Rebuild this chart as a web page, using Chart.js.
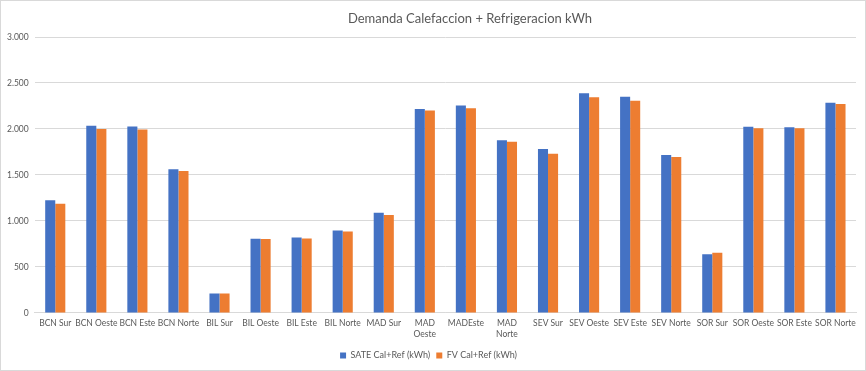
<!DOCTYPE html>
<html>
<head>
<meta charset="utf-8">
<script src="https://cdn.jsdelivr.net/npm/chart.js@4.4.0/dist/chart.umd.min.js"></script>
<style>
  html, body { margin: 0; padding: 0; background: #fff; }
  #wrap { width: 864px; height: 369px; border: 1px solid #d9d9d9; }
</style>
</head>
<body>
<div id="wrap"><canvas id="bar-chart" width="864" height="369"></canvas></div>
<script>
const chartTitle = 'Demanda Calefaccion + Refrigeracion kWh'
const categories = ['BCN Sur', 'BCN Oeste', 'BCN Este', 'BCN Norte', 'BIL Sur', 'BIL Oeste', 'BIL Este', 'BIL Norte', 'MAD Sur',
  ['MAD', 'Oeste'], 'MADEste', ['MAD', 'Norte'], 'SEV Sur', 'SEV Oeste', 'SEV Este', 'SEV Norte', 'SOR Sur', 'SOR Oeste', 'SOR Este', 'SOR Norte']
const sateValues = [1225, 2036, 2028, 1562, 210, 807, 821, 895, 1090, 2218, 2254, 1878, 1781, 2388, 2351, 1716, 638, 2023, 2020, 2286]
const fvValues = [1186, 2000, 1993, 1544, 210, 803, 810, 884, 1065, 2200, 2225, 1860, 1730, 2345, 2308, 1694, 653, 2009, 2009, 2272]
const yTicks = [0, 500, 1000, 1500, 2000, 2500, 3000]

function formatThousands(v) {
  return String(v).replace(/\B(?=(\d{3})+(?!\d))/g, '.')
}

// title sits a bit right of centre in the original, so draw it by hand
const titlePlugin = {
  id: 'offsetTitle',
  afterDraw: function(chart) {
    var c = chart.ctx
    c.save()
    c.fillStyle = '#595959'
    c.font = '13px Lato'
    c.textAlign = 'center'
    c.textBaseline = 'middle'
    c.fillText(chartTitle, 469, 18)
    c.restore()
  }
}

var ctx = document.getElementById('bar-chart').getContext('2d');
var myChart = new Chart(ctx, {
  type: 'bar',
  data: {
    labels: categories,
    datasets: [{
        label: 'SATE Cal+Ref (kWh)',
        data: sateValues,
        backgroundColor: '#4472c4',
        barPercentage: 1,
        categoryPercentage: 0.49
      }, {
        label: 'FV Cal+Ref (kWh)',
        data: fvValues,
        backgroundColor: '#ed7d31',
        barPercentage: 1,
        categoryPercentage: 0.49
      }
    ]
  },
  options: {
    responsive: false,
    animation: false,
    layout: { padding: { left: 0, right: 9, top: 36, bottom: 0 } },
    plugins: {
      title: { display: false },
      legend: {
        position: 'bottom',
        labels: {
          color: '#595959',
          font: { family: 'Lato', size: 9 },
          boxWidth: 6,
          boxHeight: 6,
          padding: 6
        }
      },
      tooltip: { enabled: false }
    },
    scales: {
      x: {
        grid: { display: false, drawTicks: false },
        border: { color: '#d9d9d9' },
        ticks: {
          color: '#595959',
          font: { family: 'Lato', size: 8.5, lineHeight: 1.3 },
          padding: 5,
          maxRotation: 0,
          autoSkip: false
        }
      },
      y: {
        min: 0,
        max: 3000,
        afterBuildTicks: function(axis) {
          axis.ticks = yTicks.map(function(v) { return { value: v } })
        },
        grid: { color: '#d9d9d9', drawTicks: false },
        border: { display: false },
        ticks: {
          color: '#595959',
          font: { family: 'Lato', size: 8.5 },
          padding: 6,
          callback: function(v) { return formatThousands(v) }
        }
      }
    }
  },
  plugins: [titlePlugin]
});
</script>
</body>
</html>
